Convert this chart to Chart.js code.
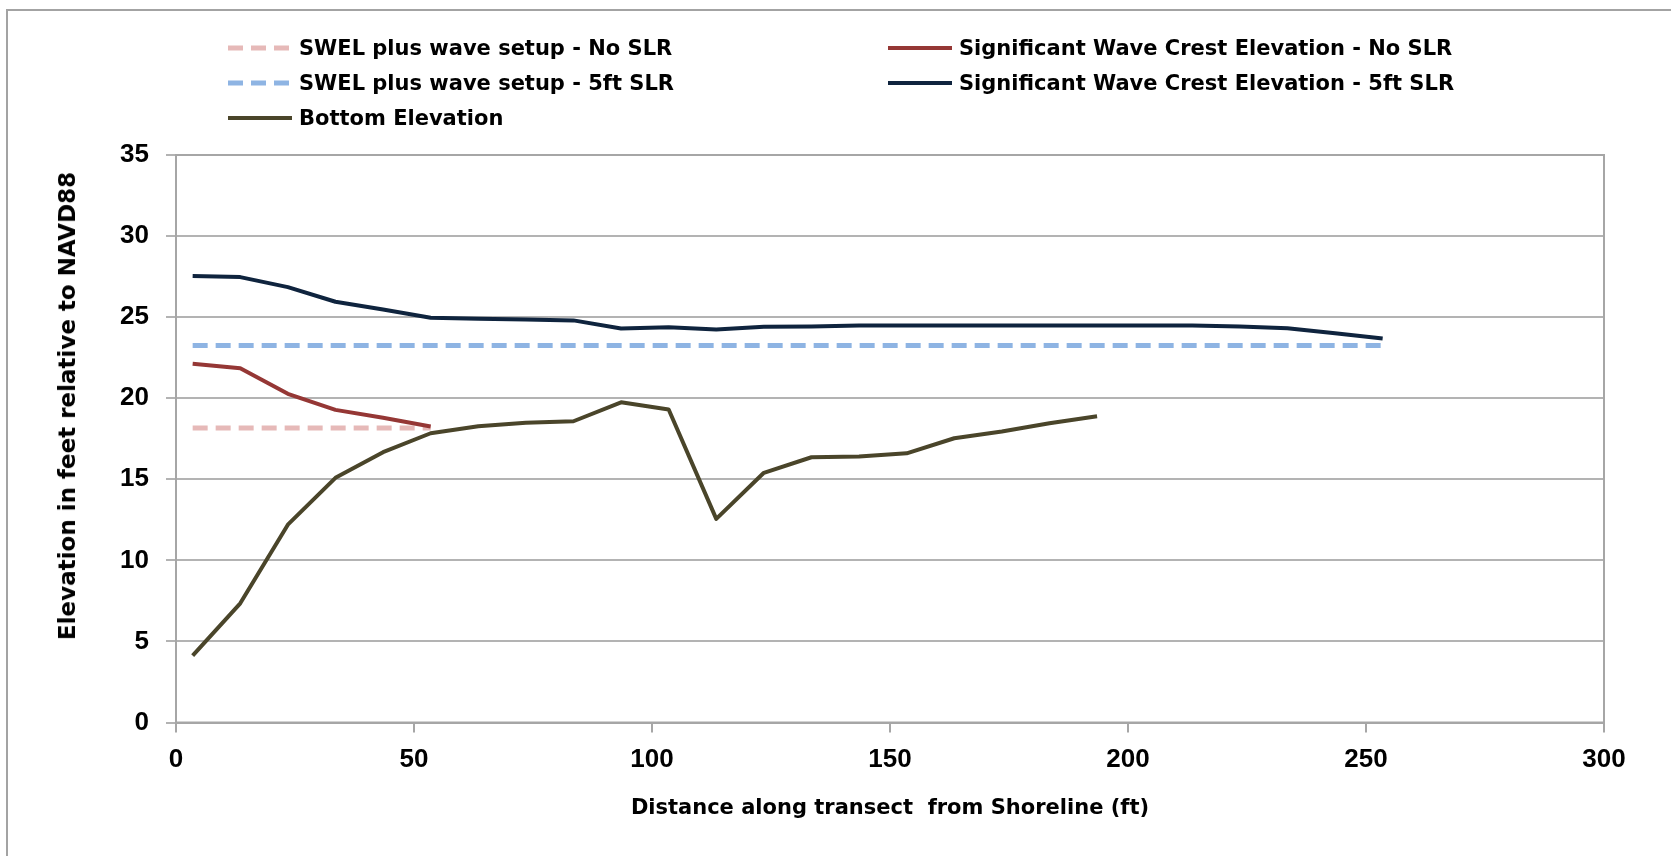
<!DOCTYPE html>
<html lang="en">
<head>
    <meta charset="UTF-8">
    <title>Wave crest elevation along transect</title>
    <script src="https://cdn.jsdelivr.net/npm/chart.js"></script>
    <style>
        html, body {
            margin: 0;
            padding: 0;
            background: #ffffff;
            overflow: hidden;
        }
        .frame {
            position: relative;
            width: 1671px;
            height: 856px;
            overflow: hidden;
            background: #ffffff;
        }
        .frame-border {
            position: absolute;
            left: 6px;
            top: 9px;
            width: 1720px;
            height: 900px;
            border: 2px solid #a3a3a3;
            box-sizing: border-box;
        }
        .chart-box {
            position: absolute;
            left: 0;
            top: 0;
            width: 1671px;
            height: 856px;
        }
        .legend {
            position: absolute;
            left: 228px;
            top: 30px;
            display: grid;
            grid-template-columns: 660px 720px;
            grid-auto-rows: 35px;
            align-items: center;
            font-family: 'DejaVu Sans', sans-serif;
            font-weight: bold;
            font-size: 21px;
            color: #000;
        }
        .legend-item {
            display: flex;
            align-items: center;
            white-space: pre;
        }
        .legend-item svg {
            margin-right: 7px;
        }
        .y-title {
            position: absolute;
            left: 67px;
            top: 406px;
            transform: translate(-50%, -50%) rotate(-90deg);
            white-space: nowrap;
            font-family: 'DejaVu Sans', sans-serif;
            font-weight: bold;
            font-size: 23px;
            color: #000;
        }
    </style>
</head>
<body>
    <div class="frame">
        <div class="frame-border"></div>
        <div class="chart-box">
            <canvas id="transectChart"></canvas>
        </div>
        <div class="legend" id="legend"></div>
        <div class="y-title">Elevation in feet relative to NAVD88</div>
    </div>

    <script>
        // distance along transect (ft)
        const distance = [3.5, 13.5, 23.5, 33.5, 43.5, 53.5, 63.5, 73.5, 83.5, 93.5, 103.5, 113.5, 123.5,
                          133.5, 143.5, 153.5, 163.5, 173.5, 183.5, 193.5, 203.5, 213.5, 223.5, 233.5, 243.5, 253.5];

        // elevations in feet (NAVD88)
        const swelNoSlr = [18.17, 18.17, 18.17, 18.17, 18.17, 18.17];
        const crestNoSlr = [22.12, 21.85, 20.27, 19.28, 18.79, 18.25];
        const swel5ftSlr = [23.25, 23.25, 23.25, 23.25, 23.25, 23.25, 23.25, 23.25, 23.25, 23.25, 23.25, 23.25, 23.25,
                            23.25, 23.25, 23.25, 23.25, 23.25, 23.25, 23.25, 23.25, 23.25, 23.25, 23.25, 23.25, 23.25];
        const crest5ftSlr = [27.53, 27.47, 26.85, 25.95, 25.47, 24.96, 24.9, 24.86, 24.8, 24.3, 24.38, 24.24, 24.4,
                             24.42, 24.48, 24.49, 24.49, 24.49, 24.49, 24.49, 24.49, 24.48, 24.42, 24.32, 24.0, 23.68];
        const bottomElevation = [4.12, 7.35, 12.2, 15.09, 16.67, 17.84, 18.27, 18.48, 18.58, 19.75, 19.3, 12.56, 15.4,
                                 16.36, 16.4, 16.6, 17.53, 17.95, 18.45, 18.89];

        const xTickValues = [0, 50, 100, 150, 200, 250, 300];
        const yTickValues = [0, 5, 10, 15, 20, 25, 30, 35];

        const points = vals => vals.map((y, i) => ({ x: distance[i], y: y }));

        const tickFont = { family: "'Liberation Sans', Arial, sans-serif", size: 26, weight: 'bold' };
        const axisGray = '#a6a6a6';

        // right/top edge of the plot area
        const plotFrame = {
            id: 'plotFrame',
            beforeDatasetsDraw(chart) {
                const { ctx, chartArea } = chart;
                ctx.save();
                ctx.strokeStyle = axisGray;
                ctx.lineWidth = 2;
                ctx.strokeRect(chartArea.left, chartArea.top, chartArea.right - chartArea.left, chartArea.bottom - chartArea.top);
                ctx.restore();
            }
        };

        const ctx = document.getElementById('transectChart').getContext('2d');
        const chart = new Chart(ctx, {
            type: 'line',
            data: {
                datasets: [
                    {
                        label: 'SWEL plus wave setup - No SLR',
                        data: points(swelNoSlr),
                        borderColor: '#e6b9b8',
                        borderWidth: 5,
                        borderDash: [15, 8],
                        order: 4
                    },
                    {
                        label: 'Significant Wave Crest Elevation - No SLR',
                        data: points(crestNoSlr),
                        borderColor: '#953735',
                        borderWidth: 4,
                        order: 1
                    },
                    {
                        label: 'SWEL plus wave setup - 5ft SLR',
                        data: points(swel5ftSlr),
                        borderColor: '#8eb4e3',
                        borderWidth: 5,
                        borderDash: [15, 8],
                        order: 3
                    },
                    {
                        label: 'Significant Wave Crest Elevation - 5ft SLR',
                        data: points(crest5ftSlr),
                        borderColor: '#0f243e',
                        borderWidth: 4,
                        order: 0
                    },
                    {
                        label: 'Bottom Elevation',
                        data: points(bottomElevation),
                        borderColor: '#4a452a',
                        borderWidth: 4,
                        order: 2
                    }
                ]
            },
            options: {
                responsive: true,
                maintainAspectRatio: false,
                animation: false,
                layout: {
                    padding: { top: 155, right: 67, bottom: 0, left: 0 }
                },
                elements: {
                    point: { radius: 0, hoverRadius: 0 },
                    line: { tension: 0, borderJoinStyle: 'round', fill: false }
                },
                plugins: {
                    legend: { display: false },
                    tooltip: { enabled: false }
                },
                scales: {
                    x: {
                        type: 'linear',
                        min: 0,
                        max: 300,
                        afterBuildTicks: axis => { axis.ticks = xTickValues.map(v => ({ value: v })); },
                        afterFit: axis => { axis.height = 133.5; },
                        grid: {
                            drawOnChartArea: false,
                            drawTicks: true,
                            tickLength: 10,
                            color: axisGray,
                            lineWidth: 2
                        },
                        border: { color: axisGray, width: 2 },
                        ticks: {
                            font: tickFont,
                            color: '#000',
                            padding: 12,
                            maxRotation: 0
                        },
                        title: {
                            display: true,
                            text: 'Distance along transect  from Shoreline (ft)',
                            color: '#000',
                            font: { family: "'DejaVu Sans', sans-serif", size: 21, weight: 'bold' },
                            padding: { top: 0, bottom: 35 }
                        }
                    },
                    y: {
                        min: 0,
                        max: 35,
                        afterBuildTicks: axis => { axis.ticks = yTickValues.map(v => ({ value: v })); },
                        afterFit: axis => { axis.width = 176; },
                        grid: {
                            color: '#b3b3b3',
                            lineWidth: 2,
                            drawTicks: true,
                            tickLength: 10
                        },
                        border: { color: axisGray, width: 2 },
                        ticks: {
                            font: tickFont,
                            color: '#000',
                            padding: 17
                        }
                    }
                }
            },
            plugins: [plotFrame]
        });

        // two-column legend like the original
        const legendEl = document.getElementById('legend');
        chart.data.datasets.forEach(ds => {
            const item = document.createElement('div');
            item.className = 'legend-item';
            const dash = ds.borderDash ? ds.borderDash.join(' ') : 'none';
            item.innerHTML =
                '<svg width="64" height="10"><line x1="0" y1="5" x2="64" y2="5" stroke="' + ds.borderColor +
                '" stroke-width="' + ds.borderWidth + '" stroke-dasharray="' + dash + '"/></svg>' +
                '<span>' + ds.label + '</span>';
            legendEl.appendChild(item);
        });
    </script>
</body>
</html>
